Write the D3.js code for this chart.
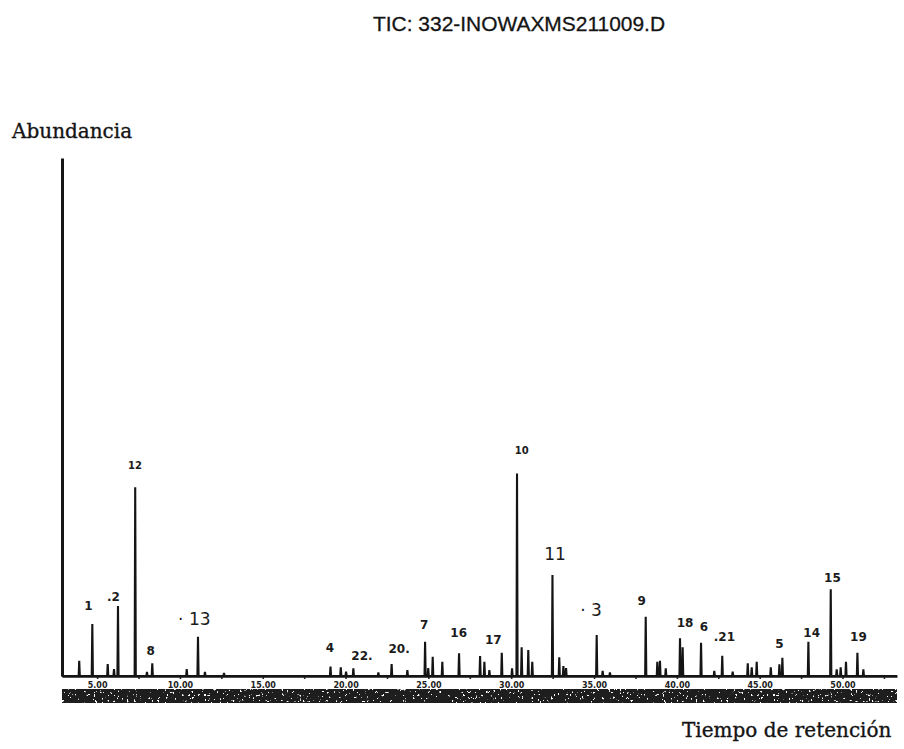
<!DOCTYPE html>
<html>
<head>
<meta charset="utf-8">
<script src="https://cdn.jsdelivr.net/npm/d3@7"></script>
<style>
  body { margin: 0; background: #ffffff; }
  svg { display: block; }
</style>
</head>
<body>
<svg id="chart" width="904" height="749"></svg>
<script>
// Retention times (min) of the peaks in the total ion chromatogram
const peakTimes = [
  3.92, 4.71, 5.64, 6.02, 6.26, 7.30, 8.01, 8.33, 10.41, 11.09, 11.51, 12.66,
  19.09, 19.71, 20.03, 20.47, 21.98, 22.78, 23.73, 24.80, 24.99, 25.26, 25.84,
  26.85, 28.12, 28.38, 28.68, 29.43, 30.05, 30.35, 30.63, 31.03, 31.27, 32.49,
  32.90, 33.15, 33.31, 35.16, 35.52, 35.96, 38.12, 38.82, 38.98, 39.33, 40.19,
  40.35, 41.46, 42.26, 42.74, 43.37, 44.28, 44.52, 44.82, 45.67, 46.19, 46.37,
  47.94, 49.29, 49.65, 49.89, 50.21, 50.90, 51.26
];
// Peak abundance, in percent of the full vertical scale
const peakAbundance = [
  2.95, 10.04, 2.32, 1.35, 13.51, 36.43, 0.77, 2.45, 1.35, 7.59, 0.77, 0.58,
  1.80, 1.68, 0.83, 1.49, 0.71, 2.32, 1.16, 6.62, 1.54, 3.73, 2.76,
  4.38, 3.86, 2.76, 1.16, 4.50, 1.49, 39.09, 5.54, 5.02, 2.76, 19.50,
  3.61, 1.93, 1.54, 7.92, 0.97, 0.71, 11.45, 2.76, 2.95, 1.49, 7.28,
  5.54, 6.43, 0.97, 3.92, 0.83, 2.45, 1.68, 2.76, 1.68, 2.26, 3.53,
  6.62, 16.74, 1.29, 1.68, 2.76, 4.50, 1.29
];

// Compound numbers written over the peaks, anchored in time / abundance units
const labelNames  = ["1", ".2", "12", "8", "\u00B7 13", "4", "22.", "20.", "7", "16", "17",
                     "10", "11", "\u00B7 3", "9", "18", "6", ".21", "5", "14", "15", "19"];
const labelTimes  = [4.47, 5.98, 7.29, 8.23, 10.87, 19.06, 20.99, 23.23, 24.75, 26.83, 28.92,
                     30.63, 32.64, 34.82, 37.88, 40.49, 41.64, 42.87, 46.19, 48.14, 49.39, 50.96];
const labelLevels = [12.74, 14.48, 39.96, 4.05, 9.94, 4.63, 3.09, 4.44, 9.07, 7.53, 6.18,
                     42.86, 22.39, 11.58, 13.71, 9.46, 8.69, 6.76, 5.41, 7.53, 18.15, 6.76];

// Time axis ticks
const majorTicks = [5, 10, 15, 20, 25, 30, 35, 40, 45, 50];
const tickLabels = ["5.00", "10.00", "15.00", "20.00", "25.00", "30.00", "35.00", "40.00", "45.00", "50.00"];
const minorTicks = [7.5, 12.5, 17.5, 22.5, 27.5, 32.5, 37.5, 42.5, 47.5, 52.5];

const timeDomain = [2.88, 53.29];

const svg = d3.select("#chart");
const x = d3.scaleLinear().domain(timeDomain).range([62, 897]);
const y = d3.scaleLinear().domain([0, 100]).range([676, 158]);

// Speckle used for the dark printed strip beneath the axis
const defs = svg.append("defs");
const grain = defs.append("filter").attr("id", "grain")
  .attr("x", 0).attr("y", 0).attr("width", "100%").attr("height", "100%")
  .attr("color-interpolation-filters", "sRGB");
grain.append("feTurbulence").attr("type", "fractalNoise")
  .attr("baseFrequency", "0.45 0.35").attr("numOctaves", 2).attr("seed", 11).attr("result", "noise");
grain.append("feColorMatrix").attr("in", "noise").attr("type", "matrix")
  .attr("values", "0 0 0 0 1  0 0 0 0 1  0 0 0 0 1  20 0 0 0 -13.4").attr("result", "specks");
grain.append("feComposite").attr("in", "specks").attr("in2", "SourceGraphic").attr("operator", "in");

// Title
svg.append("text")
  .attr("x", 519).attr("y", 31)
  .attr("text-anchor", "middle")
  .attr("font-family", "Liberation Sans, Arial, sans-serif")
  .attr("font-size", 21)
  .attr("textLength", 292).attr("lengthAdjust", "spacingAndGlyphs")
  .attr("fill", "#141414")
  .attr("stroke", "#141414").attr("stroke-width", 0.3)
  .text("TIC: 332-INOWAXMS211009.D");

// Axis titles
svg.append("text")
  .attr("x", 12).attr("y", 138)
  .attr("font-family", "DejaVu Serif, serif")
  .attr("font-size", 20)
  .attr("fill", "#141414")
  .attr("stroke", "#141414").attr("stroke-width", 0.35)
  .text("Abundancia");

svg.append("text")
  .attr("x", 682).attr("y", 737)
  .attr("font-family", "DejaVu Serif, serif")
  .attr("font-size", 20)
  .attr("fill", "#141414")
  .attr("stroke", "#141414").attr("stroke-width", 0.35)
  .text("Tiempo de retención");

// Strip below the time axis
const stripX = x(timeDomain[0]);
const stripW = x(timeDomain[1]) - x(timeDomain[0]);
svg.append("rect")
  .attr("x", stripX).attr("y", 689).attr("width", stripW).attr("height", 14)
  .attr("fill", "#1e1e1e");
svg.append("rect")
  .attr("x", stripX).attr("y", 689).attr("width", stripW).attr("height", 14)
  .attr("fill", "#000")
  .attr("filter", "url(#grain)");

// Vertical abundance axis (no ticks)
const yAxis = svg.append("g")
  .attr("transform", `translate(${x(timeDomain[0])},0)`)
  .call(d3.axisLeft(y).tickValues([]).tickSizeOuter(0));
yAxis.select(".domain").attr("stroke", "#151515").attr("stroke-width", 3);

// Time axis with minor marks
const xAxis = svg.append("g")
  .attr("transform", `translate(0,${y(0)})`)
  .call(d3.axisBottom(x).tickValues(majorTicks).tickSize(3).tickSizeOuter(0)
    .tickFormat((d, i) => tickLabels[i]));
xAxis.select(".domain").attr("stroke", "#151515").attr("stroke-width", 2.6);
xAxis.selectAll(".tick line").attr("stroke", "#222").attr("stroke-width", 1.6);
xAxis.selectAll(".tick text")
  .attr("y", 6).attr("dy", "0.71em")
  .attr("font-family", "DejaVu Sans, sans-serif")
  .attr("font-weight", "bold")
  .attr("font-size", 8)
  .attr("fill", "#222");

const minorAxis = svg.append("g")
  .attr("transform", `translate(0,${y(0)})`)
  .call(d3.axisBottom(x).tickValues(minorTicks.filter(t => t <= timeDomain[1]))
    .tickSize(3).tickSizeOuter(0).tickFormat(""));
minorAxis.select(".domain").remove();
minorAxis.selectAll(".tick line").attr("stroke", "#222").attr("stroke-width", 1.6);

// Chromatogram trace: each peak is a narrow spike rising from the baseline
const halfWidth = 0.035;
const tracePoints = [[timeDomain[0], 0]];
peakTimes.forEach((t, i) => {
  tracePoints.push([t - halfWidth, 0], [t, peakAbundance[i]], [t + halfWidth, 0]);
});
tracePoints.push([timeDomain[1], 0]);

const line = d3.line().x(d => x(d[0])).y(d => y(d[1]));
svg.append("path")
  .datum(tracePoints)
  .attr("d", line)
  .attr("fill", "none")
  .attr("stroke", "#141414")
  .attr("stroke-width", 2.1)
  .attr("stroke-linejoin", "miter")
  .attr("stroke-miterlimit", 3);

// Peak numbers
const largeLabels = new Set(["\u00B7 13", "11", "\u00B7 3"]);
const smallLabels = new Set(["12", "10"]);
svg.append("g").selectAll("text")
  .data(labelNames)
  .join("text")
  .attr("x", (d, i) => x(labelTimes[i]))
  .attr("y", (d, i) => y(labelLevels[i]))
  .attr("text-anchor", "middle")
  .attr("font-family", "DejaVu Sans, Verdana, sans-serif")
  .attr("font-weight", d => largeLabels.has(d) ? "normal" : "bold")
  .attr("font-size", d => largeLabels.has(d) ? 17 : (smallLabels.has(d) ? 10 : 12))
  .attr("fill", "#1b1b1b")
  .text(d => d);
</script>
</body>
</html>
